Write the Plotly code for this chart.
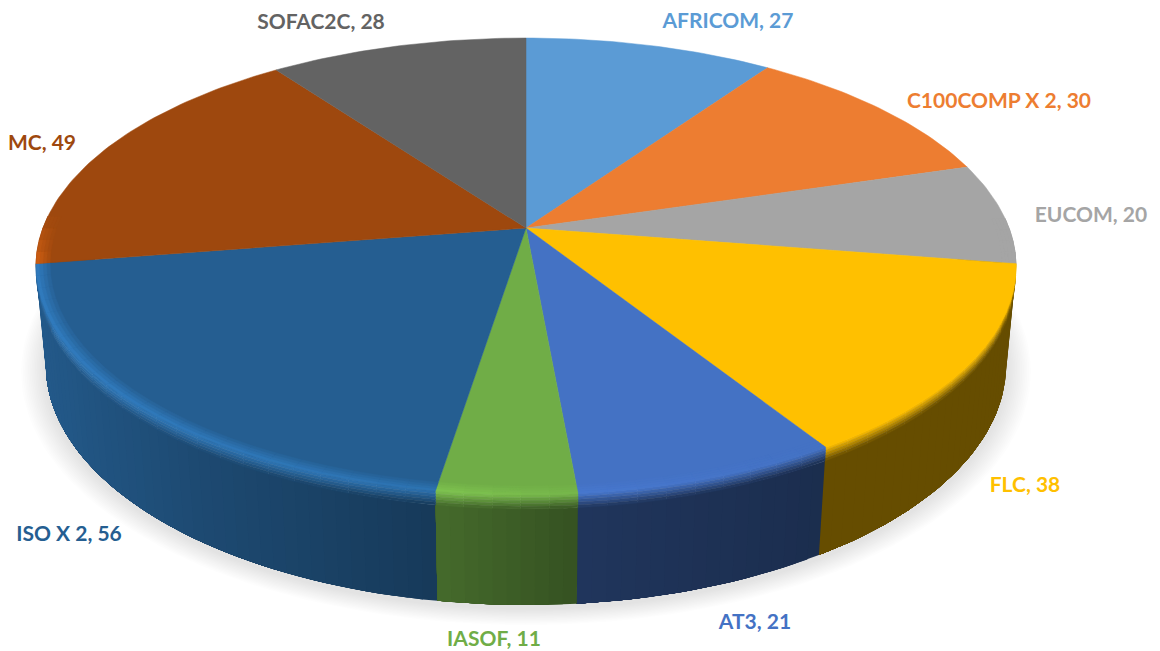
import numpy as np
import plotly.graph_objects as go

names = ["AFRICOM", "C100COMP X 2", "EUCOM", "FLC", "AT3", "IASOF", "ISO X 2", "MC", "SOFAC2C"]
values = [27, 30, 20, 38, 21, 11, 56, 49, 28]
colors = ["#5B9BD5", "#ED7D31", "#A5A5A5", "#FFC000", "#4472C4", "#70AD47", "#255E91", "#9E480E", "#636363"]
label_x = [728, 999, 1091, 1025, 755, 494, 69, 42, 321]
label_y = [23, 103, 217, 487, 624, 641, 536, 145, 24]

CX, CY, A, B, K = 526.0, 228.0, 483.0, 222.0, 0.1685
DROP, DEPTH = 99.0, 0.02


def project(theta, r=1.0, t=0.0):
    x, y = r * np.sin(theta), r * np.cos(theta)
    w = 1 + K * y + DEPTH * t
    return CX + A * x / w, CY + (-B * y + DROP * t) / w


def rgb(c):
    return np.array([int(c[i:i + 2], 16) for i in (1, 3, 5)], float)


def css(v):
    v = np.clip(v, 0, 255)
    return "rgb(%d,%d,%d)" % tuple(v.round())


def wall_factor(x):
    return np.interp(x, [36, 100, 200, 430, 580, 820, 1017], [.95, .88, .78, .62, .47, .40, .40])


def light_factor(x):
    return np.interp(x, [36, 430, 445, 577, 820, 1017], [1.3, 1.22, 1.12, 1.05, 1.0, 1.0])


fig = go.Figure()


def poly(xs, ys, color, opacity=1.0, lw=0.5):
    xs, ys = list(xs), list(ys)
    xs.append(xs[0])
    ys.append(ys[0])
    fig.add_trace(go.Scatter(
        x=xs, y=ys, mode="lines", fill="toself", fillcolor=color,
        line=dict(color=color, width=lw), opacity=opacity,
        hoverinfo="skip", showlegend=False))


# soft shadow beneath the pie
ring = np.linspace(0, 2 * np.pi, 181)
for i in range(14):
    grow = 1.05 - i * 0.0035
    sx, sy = project(ring, grow, 1.0)
    poly(sx, sy + 3, "rgb(120,120,120)", 0.016, 0)

cum = np.concatenate([[0], np.cumsum(values)]) / sum(values) * 2 * np.pi
wedges = list(zip(cum[:-1], cum[1:], colors))


def segments(a0, a1, step):
    n = max(1, int(np.ceil((a1 - a0) / step)))
    return np.linspace(a0, a1, n + 1)


T_EDGE = [0, .025, .05, .075, .10, .125]
R_EDGE = [.972, .979, .986, .993, 1.0]

# side walls: each strip is painted from its start to the wedge's far end, so no seams
front = sorted(wedges, key=lambda w: -np.cos((w[0] + w[1]) / 2))
for a0, a1, c in front:
    lo, hi = max(a0, np.arccos(0.3)), min(a1, 2 * np.pi - np.arccos(0.3))
    if lo >= hi:
        continue
    e = segments(lo, hi, np.radians(1.5))
    for s0 in e[:-1]:
        arc = np.linspace(s0, hi, max(2, int((hi - s0) / np.radians(1.5)) + 2))
        x0, y0 = project(arc, 1, T_EDGE[-1])
        x1, y1 = project(arc, 1, 1)
        f = wall_factor(project(s0 + np.radians(0.75))[0])
        poly(np.r_[x0, x1[::-1]], np.r_[y0, y1[::-1]], css(rgb(c) * f), lw=0)


def bevel(a0, a1, c):
    for s0, s1 in zip(*(lambda e: (e[:-1], e[1:]))(segments(a0, a1, np.radians(3)))):
        mid = (s0 + s1) / 2
        strength = np.clip((0.05 - np.cos(mid)) / 0.2, 0, 1)
        if strength > 0:
            yield np.linspace(s0, s1, 4), mid, strength


# upper wall blur goes under the top faces
for a0, a1, c in wedges:
    for arc, mid, strength in bevel(a0, a1, c):
        xm = project(mid)[0]
        base, lit = rgb(c), rgb(c) * (1 + (light_factor(xm) - 1) * strength)
        wall = base * wall_factor(xm)
        for j in range(len(T_EDGE) - 1):
            frac = (j + 0.5) / (len(T_EDGE) - 1)
            x0, y0 = project(arc, 1, T_EDGE[j])
            x1, y1 = project(arc, 1, T_EDGE[j + 1])
            poly(np.r_[x0, x1[::-1]], np.r_[y0, y1[::-1]], css(lit + (wall - lit) * frac))

# top faces
for a0, a1, c in wedges:
    arc = segments(a0, a1, np.radians(1))
    x, y = project(arc)
    poly(np.r_[CX, x], np.r_[CY, y], c)

# light band on the rim of the top face
for a0, a1, c in wedges:
    for arc, mid, strength in bevel(a0, a1, c):
        xm = project(mid)[0]
        base, lit = rgb(c), rgb(c) * (1 + (light_factor(xm) - 1) * strength)
        for j in range(len(R_EDGE) - 1):
            frac = (j + 1) / (len(R_EDGE) - 1)
            x0, y0 = project(arc, R_EDGE[j])
            x1, y1 = project(arc, R_EDGE[j + 1])
            poly(np.r_[x0, x1[::-1]], np.r_[y0, y1[::-1]], css(base + (lit - base) * frac))

fig.add_trace(go.Scatter(
    x=label_x, y=label_y, mode="text",
    text=[f"{n}, {v}" for n, v in zip(names, values)],
    textposition="middle center",
    textfont=dict(family="Lato, Carlito, Open Sans, sans-serif", size=21, color=colors, weight="bold"),
    hoverinfo="skip", showlegend=False))

fig.update_layout(
    width=1160, height=651, margin=dict(l=0, r=0, t=0, b=0),
    paper_bgcolor="white", plot_bgcolor="white",
    xaxis=dict(range=[0, 1160], visible=False, fixedrange=True),
    yaxis=dict(range=[651, 0], visible=False, fixedrange=True),
)
fig.write_html("out.html", config=dict(displayModeBar=False),
               post_script="document.body.style.margin='0';document.body.style.overflow='hidden';")
